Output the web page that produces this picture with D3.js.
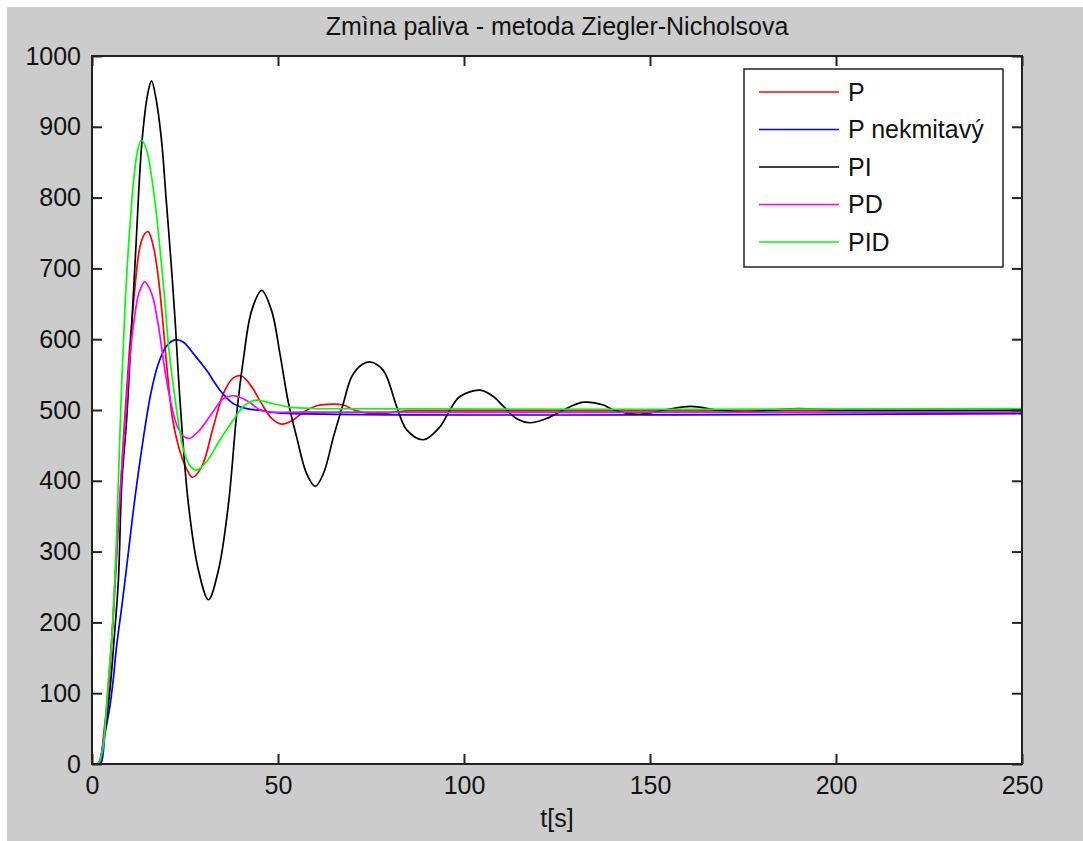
<!DOCTYPE html>
<html>

<head>
    <meta charset="utf-8">
    <style>
        body {
            margin: 0;
            background: white;
        }

        svg {
            display: block;
            font-family: 'Liberation Sans', Arial, Helvetica, sans-serif;
        }
    </style>
</head>

<body>
    <svg width="1083" height="841"></svg>
</body>

<script src="https://d3js.org/d3.v7.min.js"></script>

<script>
    // values, time in s
    let tP = [0, 1.7, 3.4, 4.3, 5.6, 6.6, 7.5, 8.7, 10.0, 11.4, 12.9, 14.2, 15.1, 16.5, 17.8, 19.0, 20.2, 21.7, 23.8, 25.6, 27.0, 29.5, 32.6, 35.3, 37.9, 40.2, 42.9, 45.6, 48.3, 51.0, 54.1, 56.8, 60.4, 63.1, 67.6, 70.5, 75, 80, 85, 95, 250]
    let yP = [0, 0, 50, 100, 200, 300, 377, 480, 580, 665, 731, 749, 752, 731, 688, 627, 556, 486, 439, 415, 405, 420, 476, 523, 545, 548, 533, 509, 488, 480, 486, 497, 506, 508, 507, 500, 495, 496, 499, 499, 499]

    let tPn = [0, 2.2, 3.5, 4.8, 5.7, 6.6, 8.0, 9.1, 10.2, 11.6, 13.8, 15.8, 17.8, 20.0, 22.3, 24.5, 27.2, 30.8, 34.4, 38.0, 41.6, 46.0, 50, 250]
    let yPn = [0, 0, 43, 81, 119, 166, 222, 269, 318, 378, 460, 523, 565, 590, 599, 596, 580, 556, 528, 509, 502, 499, 496, 495]

    let tPI = [0, 1.6, 3.3, 4.8, 6.0, 7.1, 8.0, 9.3, 10.2, 11.8, 13.4, 15.0, 16.0, 17.2, 18.7, 19.9, 21.2, 22.3, 23.7, 25.9,
        28.6, 31.3, 34.0, 36.7, 38.9, 40.7, 42.9, 45.6, 48.3, 50.5, 52.8, 55.0, 57.7, 60.0, 62.2, 64.9, 67.6, 69.8, 72.5, 74.7,
        78.3, 81.9, 84.6, 89.1, 93.5, 96.2, 98.9, 104.3, 107.9, 110.6, 114.1, 117.7, 122.2, 126.7, 132.1, 137.5, 140.2, 147, 154, 161,
        168, 176, 183, 190, 200, 250]
    let yPI = [0, 0, 40, 104, 180, 260, 397, 486, 571, 730, 877, 947, 965, 940, 880, 800, 712, 630, 510, 368,
        274, 232, 274, 368, 495, 572, 640, 669, 640, 580, 510, 462, 410, 392, 410, 462, 510, 547, 564, 568,
        556, 505, 472, 458, 476, 500, 519, 528, 519, 505, 488, 482, 488, 500, 511, 507, 500, 494, 500, 505,
        500, 497, 500, 502, 500, 500]

    let tPD = [0, 1.7, 3.3, 4.2, 5.6, 6.7, 7.8, 9.0, 10.2, 11.4, 12.6, 14.2, 16.0, 17.6, 19.6, 21.2, 23.0, 24.8, 26.3, 29.0, 32.2, 35.3, 38.4, 42.0, 45.2, 47.8, 55, 250]
    let yPD = [0, 0, 50, 100, 200, 300, 400, 490, 575, 630, 665, 681, 665, 627, 556, 510, 476, 462, 460, 472, 495, 516, 520, 512, 500, 497, 497, 497]

    let tPID = [0, 1.5, 3.0, 3.8, 4.4, 5.3, 5.9, 6.5, 7.1, 8.0, 9.0, 10.2, 11.3, 12.4, 13.3, 14.7, 16.0, 17.2, 18.3, 19.4, 20.6, 22.5, 24.4, 26.2, 28.1, 30.8, 34.4, 38.0, 41.1, 44.3, 47.8, 53.2, 60, 250]
    let yPID = [0, 0, 24, 71, 118, 175, 236, 307, 401, 540, 660, 760, 830, 870, 881, 867, 830, 782, 726, 665, 589, 509, 448, 422, 415, 427, 458, 486, 507, 514, 510, 504, 502, 502]

    let names = ["P", "P nekmitavý", "PI", "PD", "PID"]
    let colors = ["#ff0000", "#0000ff", "#000000", "#ff00ff", "#00ff00"]
    let times = [tP, tPn, tPI, tPD, tPID]
    let values = [yP, yPn, yPI, yPD, yPID]

    let xTicks = [0, 50, 100, 150, 200, 250]
    let yTicks = [0, 100, 200, 300, 400, 500, 600, 700, 800, 900, 1000]

    let title = "Zmìna paliva - metoda Ziegler-Nicholsova"
    let xLabel = "t[s]"

    let fontSize = "25px"

    let svg = d3.select("svg")

    // grey figure background (small white strip top/left like the original)
    svg.append("rect")
        .attr("x", 7)
        .attr("y", 7)
        .attr("width", 1076)
        .attr("height", 834)
        .style("fill", "#cccccc")

    let plotL = 92, plotR = 1022, plotT = 56, plotB = 764

    let x = d3.scaleLinear().domain([0, 250]).range([plotL, plotR])
    let y = d3.scaleLinear().domain([0, 1000]).range([plotB, plotT])

    svg.append("rect")
        .attr("x", plotL)
        .attr("y", plotT)
        .attr("width", plotR - plotL)
        .attr("height", plotB - plotT)
        .style("fill", "white")

    svg.append("clipPath")
        .attr("id", "plot")
        .append("rect")
        .attr("x", plotL)
        .attr("y", plotT)
        .attr("width", plotR - plotL)
        .attr("height", plotB - plotT)

    let line = d3.line()
        .x(d => x(d[0]))
        .y(d => y(d[1]))
        .curve(d3.curveCatmullRom.alpha(0.5))

    let series = names.map((n, i) => times[i].map((t, j) => [t, values[i][j]]))

    svg.append("g")
        .attr("clip-path", "url(#plot)")
        .selectAll("path")
        .data(series)
        .join("path")
        .attr("d", line)
        .style("fill", "none")
        .style("stroke", (d, i) => colors[i])
        .style("stroke-width", 1.7)

    // axes, ticks pointing inwards on all four sides
    let axisStyle = g => {
        g.select(".domain").remove()
        g.selectAll(".tick line").style("stroke", "#222").style("stroke-width", 2)
        g.selectAll(".tick text")
            .style("font-size", fontSize)
            .style("fill", "#111")
            .style("font-family", "'Liberation Sans', Arial, sans-serif")
    }

    svg.append("g")
        .attr("transform", "translate(0," + plotB + ")")
        .call(d3.axisBottom(x).tickValues(xTicks).tickFormat(d3.format("d")).tickSize(-10).tickPadding(12))
        .call(axisStyle)

    svg.append("g")
        .attr("transform", "translate(0," + plotT + ")")
        .call(d3.axisTop(x).tickValues(xTicks).tickSize(-10).tickFormat(""))
        .call(axisStyle)

    svg.append("g")
        .attr("transform", "translate(" + plotL + ",0)")
        .call(d3.axisLeft(y).tickValues(yTicks).tickFormat(d3.format("d")).tickSize(-10).tickPadding(11))
        .call(axisStyle)

    svg.append("g")
        .attr("transform", "translate(" + plotR + ",0)")
        .call(d3.axisRight(y).tickValues(yTicks).tickSize(-10).tickFormat(""))
        .call(axisStyle)

    svg.append("rect")
        .attr("x", plotL)
        .attr("y", plotT)
        .attr("width", plotR - plotL)
        .attr("height", plotB - plotT)
        .style("fill", "none")
        .style("stroke", "#222")
        .style("stroke-width", 2)

    svg.append("text")
        .attr("x", (plotL + plotR) / 2)
        .attr("y", 35)
        .attr("text-anchor", "middle")
        .style("font-size", fontSize)
        .style("fill", "#111")
        .text(title)

    svg.append("text")
        .attr("x", (plotL + plotR) / 2)
        .attr("y", 827)
        .attr("text-anchor", "middle")
        .style("font-size", fontSize)
        .style("fill", "#111")
        .text(xLabel)

    // legend
    let legend = svg.append("g")

    legend.append("rect")
        .attr("x", 744)
        .attr("y", 69)
        .attr("width", 259)
        .attr("height", 198)
        .style("fill", "white")
        .style("stroke", "#222")
        .style("stroke-width", 1.5)

    let items = legend.selectAll(".item")
        .data(names)
        .join("g")
        .attr("class", "item")
        .attr("transform", (d, i) => "translate(0," + (92 + i * 37.5) + ")")

    items.append("line")
        .attr("x1", 759)
        .attr("x2", 839)
        .style("stroke", (d, i) => colors[i])
        .style("stroke-width", 1.7)

    items.append("text")
        .attr("x", 848)
        .attr("dy", "0.35em")
        .style("font-size", fontSize)
        .style("fill", "#111")
        .text(d => d)
</script>

</html>
